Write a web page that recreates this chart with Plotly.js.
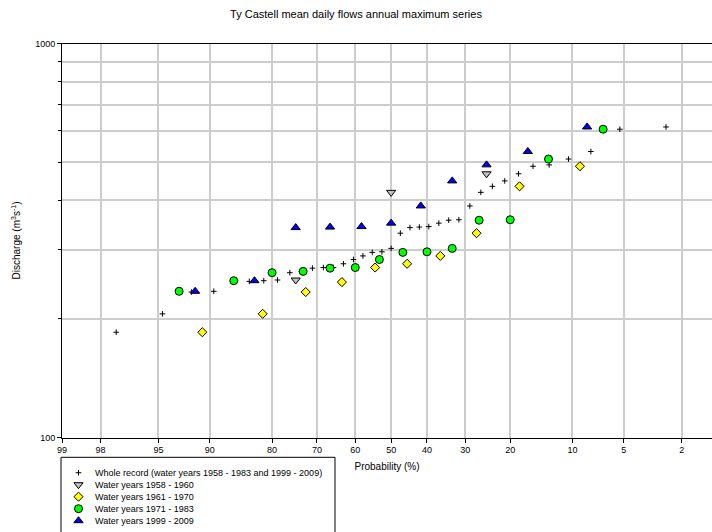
<!DOCTYPE html>
<html>
<head>
<meta charset="utf-8">
<script src="https://cdn.plot.ly/plotly-3.0.1.min.js"></script>
<style>html,body{margin:0;padding:0;background:#fff;}#chart{width:712px;height:532px;}</style>
</head>
<body>
<div id="chart"></div>
<script>
// ---- Data (exceedance probability %, discharge m3/s) ----
const wholeProb = [2.6, 5.3, 7.9, 10.5, 13.2, 15.8, 18.4, 21.1, 23.7, 26.3, 28.9, 31.6, 34.2, 36.8, 39.5, 42.1, 44.7, 47.4, 50.0, 52.6, 55.3, 57.9, 60.5, 63.2, 65.8, 68.4, 71.1, 73.7, 76.3, 78.9, 81.6, 84.2, 86.8, 89.5, 92.1, 94.7, 97.4];
const wholeQ    = [614, 606, 532, 509, 492, 488, 467, 448, 434, 419, 387, 357, 356, 350, 343, 342, 341, 330, 302, 296, 295, 289, 283, 276, 270, 270, 269, 264, 262, 251, 250, 249, 248, 235, 234, 206, 185];

const prob5860 = [25.0, 50.0, 75.0];
const q5860    = [467, 419, 251];

const prob6170 = [9.1, 18.2, 27.3, 36.4, 45.5, 54.5, 63.6, 72.7, 81.8, 90.9];
const q6170    = [488, 434, 330, 289, 276, 270, 248, 234, 206, 185];

const prob7183 = [6.7, 13.3, 20.0, 26.7, 33.3, 40.0, 46.7, 53.3, 60.0, 66.7, 73.3, 80.0, 86.7, 93.3];
const q7183    = [606, 509, 357, 356, 302, 296, 295, 283, 270, 269, 264, 262, 250, 235];

const prob9909 = [8.3, 16.7, 25.0, 33.3, 41.7, 50.0, 58.3, 66.7, 75.0, 83.3, 91.7];
const q9909    = [614, 532, 492, 448, 387, 350, 343, 342, 341, 250, 235];

const seriesNames = [
  "Whole record (water years 1958 - 1983 and 1999 - 2009)",
  "Water years 1958 - 1960",
  "Water years 1961 - 1970",
  "Water years 1971 - 1983",
  "Water years 1999 - 2009"
];

const xTickLabels = [99, 98, 95, 90, 80, 70, 60, 50, 40, 30, 20, 10, 5, 2];
const yMajorTicks = [100, 1000];
const yMinorTicks = [200, 300, 400, 500, 600, 700, 800, 900];

// ---- Normal probability scale (inverse normal CDF, Acklam) ----
function invNorm(p) {
  const a = [-3.969683028665376e+01, 2.209460984245205e+02, -2.759285104469687e+02, 1.383577518672690e+02, -3.066479806614716e+01, 2.506628277459239e+00];
  const b = [-5.447609879822406e+01, 1.615858368580409e+02, -1.556989798598866e+02, 6.680131188771972e+01, -1.328068155288572e+01];
  const c = [-7.784894002430293e-03, -3.223964580411365e-01, -2.400758277161838e+00, -2.549671665064590e+00, 4.374664141464968e+00, 2.938163982698783e+00];
  const d = [7.784695709041462e-03, 3.224671290700398e-01, 2.445134137142996e+00, 3.754408661907416e+00];
  const pl = 0.02425, ph = 1 - pl;
  let q, r;
  if (p < pl) {
    q = Math.sqrt(-2 * Math.log(p));
    return (((((c[0]*q+c[1])*q+c[2])*q+c[3])*q+c[4])*q+c[5]) / ((((d[0]*q+d[1])*q+d[2])*q+d[3])*q+1);
  } else if (p <= ph) {
    q = p - 0.5; r = q * q;
    return (((((a[0]*r+a[1])*r+a[2])*r+a[3])*r+a[4])*r+a[5])*q / (((((b[0]*r+b[1])*r+b[2])*r+b[3])*r+b[4])*r+1);
  } else {
    q = Math.sqrt(-2 * Math.log(1 - p));
    return -(((((c[0]*q+c[1])*q+c[2])*q+c[3])*q+c[4])*q+c[5]) / ((((d[0]*q+d[1])*q+d[2])*q+d[3])*q+1);
  }
}
const toX = p => invNorm(1 - p / 100);

const W = 712, H = 532;
const FONT = "Liberation Sans, Arial, sans-serif";
const GRID = "#cdcdcd";

const styles = [
  {symbol: "cross-thin", size: 4, color: "#000", line: {color: "#000", width: 1}},
  {symbol: "triangle-down", size: 8, color: "#c0c0c0", line: {color: "#000", width: 1}},
  {symbol: "diamond", size: 7, color: "#ffff00", line: {color: "#000", width: 1}},
  {symbol: "circle", size: 8, color: "#00ff00", line: {color: "#000", width: 1}},
  {symbol: "triangle-up", size: 8, color: "#0000ff", line: {color: "#000", width: 1}}
];
const probs = [wholeProb, prob5860, prob6170, prob7183, prob9909];
const qs = [wholeQ, q5860, q6170, q7183, q9909];

const traces = [];
probs.forEach((pArr, i) => {
  traces.push({
    type: "scatter", mode: "markers",
    x: pArr.map(toX), y: qs[i],
    name: seriesNames[i], showlegend: false,
    marker: styles[i], hoverinfo: "skip"
  });
});
// legend symbols (on an auxiliary hidden axis pair)
seriesNames.forEach((n, i) => {
  traces.push({
    type: "scatter", mode: "markers",
    x: [0], y: [i], xaxis: "x2", yaxis: "y2",
    showlegend: false, marker: styles[i], hoverinfo: "skip", cliponaxis: false
  });
});

const annotations = seriesNames.map((n, i) => ({
  xref: "paper", yref: "y2", x: 93 / W, y: i, xanchor: "left", yanchor: "middle",
  text: n, showarrow: false, font: {family: FONT, size: 9, color: "#000"}
}));

const layout = {
  width: W, height: H,
  margin: {l: 0, r: 0, t: 0, b: 0},
  paper_bgcolor: "#fff", plot_bgcolor: "#fff",
  font: {family: FONT, size: 9, color: "#000"},
  showlegend: false,
  title: {
    text: "Ty Castell mean daily flows annual maximum series",
    font: {family: FONT, size: 11, color: "#000"},
    xref: "paper", x: 0.5, xanchor: "center",
    yref: "container", y: 1 - 14 / H, yanchor: "middle"
  },
  xaxis: {
    domain: [62 / W, 1],
    range: [toX(99), 2.268],
    tickmode: "array",
    tickvals: xTickLabels.map(toX),
    ticktext: xTickLabels.map(String),
    ticks: "outside", ticklen: 4, tickcolor: "#000", tickwidth: 1,
    showgrid: true, gridcolor: GRID, gridwidth: 2,
    zeroline: false,
    showline: true, linecolor: "#000", linewidth: 1, mirror: true,
    tickfont: {family: FONT, size: 9, color: "#000"},
    title: {text: "Probability (%)", font: {family: FONT, size: 10, color: "#000"}, standoff: 8},
    automargin: false, fixedrange: true
  },
  yaxis: {
    domain: [94.5 / H, 1 - 43.5 / H],
    type: "log",
    range: [2, 3],
    tickmode: "array",
    tickvals: yMajorTicks,
    ticktext: yMajorTicks.map(String),
    ticks: "outside", ticklen: 4, tickcolor: "#000", tickwidth: 1,
    showgrid: false,
    minor: {
      tickmode: "array", tickvals: yMinorTicks,
      ticks: "outside", ticklen: 3, tickcolor: "#000", tickwidth: 1,
      showgrid: true, gridcolor: GRID, gridwidth: 2
    },
    zeroline: false,
    showline: true, linecolor: "#000", linewidth: 1,
    tickfont: {family: FONT, size: 9, color: "#000"},
    title: {text: "Discharge (m<sup>3</sup>s<sup>-1</sup>)", font: {family: FONT, size: 10, color: "#000"}, standoff: 12},
    automargin: false, fixedrange: true
  },
  xaxis2: {
    domain: [70 / W, 87 / W], range: [-1, 1], anchor: "y2",
    visible: false, showgrid: false, zeroline: false, fixedrange: true
  },
  yaxis2: {
    domain: [(H - 526.7) / H, (H - 466.7) / H], range: [4.5, -0.5], anchor: "x2",
    visible: false, showgrid: false, zeroline: false, fixedrange: true
  },
  shapes: [{
    type: "rect", xref: "paper", yref: "paper",
    x0: 61 / W, x1: 335 / W, y0: -0.02, y1: (H - 457.3) / H,
    line: {color: "#000", width: 1}, fillcolor: "rgba(0,0,0,0)"
  }],
  annotations: annotations
};

Plotly.newPlot("chart", traces, layout, {displayModeBar: false, staticPlot: true});
</script>
</body>
</html>
